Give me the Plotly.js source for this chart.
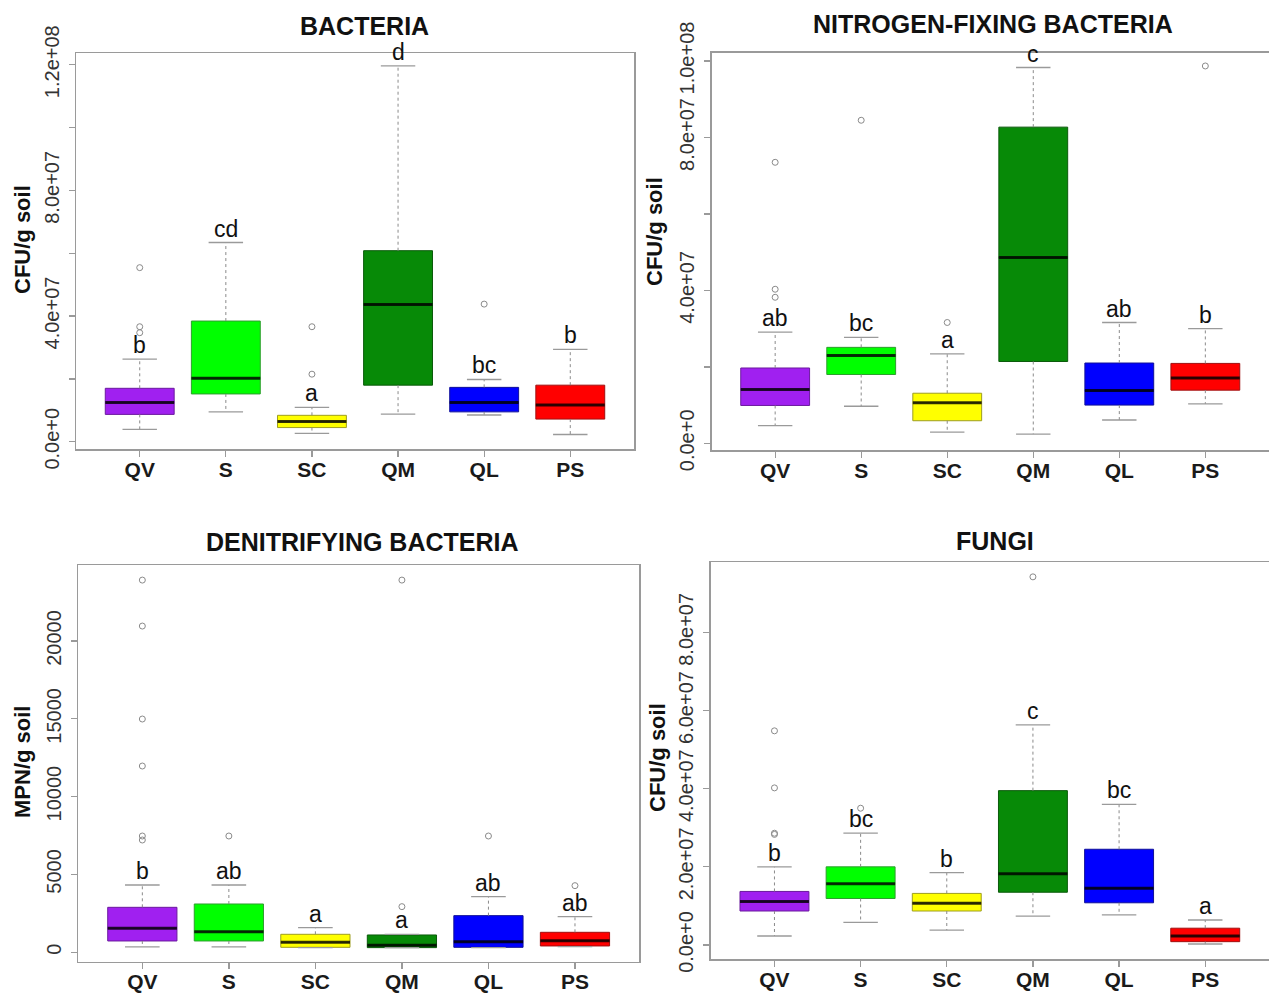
<!DOCTYPE html>
<html>
<head>
<meta charset="utf-8">
<script src="https://cdn.plot.ly/plotly-3.0.1.min.js"></script>
<style>
html,body{margin:0;padding:0;background:#fff;}
#chart{width:1269px;height:997px;}
</style>
</head>
<body>
<div id="chart"></div>
<script>
// ---------- data ----------
const categories = ['QV', 'S', 'SC', 'QM', 'QL', 'PS'];

// BACTERIA (CFU/g soil)
const bactLow  = [3.9e6, 9.5e6, 2.65e6, 8.8e6, 8.5e6, 2.3e6];
const bactQ1   = [8.7e6, 1.52e7, 4.5e6, 1.80e7, 9.5e6, 7.2e6];
const bactMed  = [1.25e7, 2.02e7, 6.4e6, 4.37e7, 1.25e7, 1.17e7];
const bactQ3   = [1.70e7, 3.84e7, 8.4e6, 6.08e7, 1.73e7, 1.80e7];
const bactHigh = [2.63e7, 6.34e7, 1.09e7, 1.196e8, 1.98e7, 2.94e7];
const bactOutGroup = ['QV', 'QV', 'QV', 'SC', 'SC', 'QL'];
const bactOutValue = [3.47e7, 3.66e7, 5.54e7, 2.15e7, 3.66e7, 4.38e7];
const bactLetters = ['b', 'cd', 'a', 'd', 'bc', 'b'];
const bactTickVals = [0, 2e7, 4e7, 6e7, 8e7, 1e8, 1.2e8];
const bactTickText = ['0.0e+0', '', '4.0e+07', '', '8.0e+07', '', '1.2e+08'];

// NITROGEN-FIXING BACTERIA (CFU/g soil)
const nfLow  = [4.6e6, 9.7e6, 2.9e6, 2.4e6, 6.1e6, 1.03e7];
const nfQ1   = [9.9e6, 1.80e7, 5.9e6, 2.14e7, 1.0e7, 1.39e7];
const nfMed  = [1.41e7, 2.30e7, 1.06e7, 4.86e7, 1.38e7, 1.71e7];
const nfQ3   = [1.97e7, 2.51e7, 1.31e7, 8.27e7, 2.10e7, 2.09e7];
const nfHigh = [2.91e7, 2.77e7, 2.34e7, 9.83e7, 3.16e7, 3.0e7];
const nfOutGroup = ['QV', 'QV', 'QV', 'S', 'SC', 'PS'];
const nfOutValue = [3.82e7, 4.03e7, 7.35e7, 8.45e7, 3.16e7, 9.87e7];
const nfLetters = ['ab', 'bc', 'a', 'c', 'ab', 'b'];
const nfTickVals = [0, 2e7, 4e7, 6e7, 8e7, 1e8];
const nfTickText = ['0.0e+0', '', '4.0e+07', '', '8.0e+07', '1.0e+08'];

// DENITRIFYING BACTERIA (MPN/g soil)
const denLow  = [343, 343, 300, 300, 300, 364];
const denQ1   = [728, 728, 320, 300, 320, 407];
const denMed  = [1541, 1327, 642, 450, 685, 749];
const denQ3   = [2890, 3104, 1156, 1113, 2355, 1285];
const denHigh = [4325, 4325, 1584, 1150, 3575, 2291];
const denOutGroup = ['QV', 'QV', 'QV', 'QV', 'QV', 'QV', 'S', 'QM', 'QM', 'QL', 'PS'];
const denOutValue = [23914, 20960, 14987, 11968, 7472, 7215, 7472, 2933, 23914, 7472, 4282];
const denLetters = ['b', 'ab', 'a', 'a', 'ab', 'ab'];
const denTickVals = [0, 5000, 10000, 15000, 20000];
const denTickText = ['0', '5000', '10000', '15000', '20000'];

// FUNGI (CFU/g soil)
const funLow  = [2.3e6, 5.8e6, 3.8e6, 7.4e6, 7.7e6, 2.6e5];
const funQ1   = [8.7e6, 1.19e7, 8.7e6, 1.35e7, 1.08e7, 8.5e5];
const funMed  = [1.11e7, 1.57e7, 1.07e7, 1.82e7, 1.45e7, 2.3e6];
const funQ3   = [1.37e7, 2.0e7, 1.32e7, 3.95e7, 2.45e7, 4.3e6];
const funHigh = [2.0e7, 2.86e7, 1.85e7, 5.63e7, 3.6e7, 6.4e6];
const funOutGroup = ['QV', 'QV', 'QV', 'QV', 'S', 'QM'];
const funOutValue = [2.83e7, 2.86e7, 4.02e7, 5.48e7, 3.5e7, 9.42e7];
const funLetters = ['b', 'bc', 'b', 'c', 'bc', 'a'];
const funTickVals = [0, 2e7, 4e7, 6e7, 8e7];
const funTickText = ['0.0e+0', '2.0e+07', '4.0e+07', '6.0e+07', '8.0e+07'];

// ---------- style ----------
const fillColors = ['#A020F0', '#00FF00', '#FFFF00', '#078A07', '#0000FF', '#FF0000'];
const edgeColors = ['#6B1A9E', '#2E9E2E', '#9E9E20', '#0B5A0B', '#10109A', '#A01010'];
const FONT = 'Liberation Sans, Arial, sans-serif';
const GREY = '#9a9a9a';

const panels = [
  {name: 'BACTERIA', ytitle: 'CFU/g soil', low: bactLow, q1: bactQ1, med: bactMed, q3: bactQ3, high: bactHigh,
   outG: bactOutGroup, outV: bactOutValue, letters: bactLetters, tv: bactTickVals, tt: bactTickText,
   xd: [76, 634], yd: [53, 449], yr: [-2.32e6, 1.2372e8], title: [364, 26], yt: [22, 240]},
  {name: 'NITROGEN-FIXING BACTERIA', ytitle: 'CFU/g soil', low: nfLow, q1: nfQ1, med: nfMed, q3: nfQ3, high: nfHigh,
   outG: nfOutGroup, outV: nfOutValue, letters: nfLetters, tv: nfTickVals, tt: nfTickText,
   xd: [711.5, 1269], yd: [52.7, 450], yr: [-1.75e6, 1.0217e8], title: [993, 24], yt: [655, 232]},
  {name: 'DENITRIFYING BACTERIA', ytitle: 'MPN/g soil', low: denLow, q1: denQ1, med: denMed, q3: denQ3, high: denHigh,
   outG: denOutGroup, outV: denOutValue, letters: denLetters, tv: denTickVals, tt: denTickText,
   xd: [78.3, 639], yd: [565, 961.7], yr: [-604, 24883], title: [362, 542], yt: [22, 762]},
  {name: 'FUNGI', ytitle: 'CFU/g soil', low: funLow, q1: funQ1, med: funMed, q3: funQ3, high: funHigh,
   outG: funOutGroup, outV: funOutValue, letters: funLetters, tv: funTickVals, tt: funTickText,
   xd: [710.7, 1269], yd: [562, 959.3], yr: [-3.66e6, 9.8e7], title: [995, 541], yt: [657, 758]}
];

const W = 1269, H = 997;
const traces = [];
const layout = {
  width: W, height: H, margin: {l: 0, r: 0, t: 0, b: 0},
  paper_bgcolor: '#ffffff', plot_bgcolor: '#ffffff',
  showlegend: false, boxmode: 'overlay',
  annotations: []
};

panels.forEach((p, k) => {
  const n = k + 1;
  const xa = 'x' + (n === 1 ? '' : n), ya = 'y' + (n === 1 ? '' : n);
  const xkey = 'xaxis' + (n === 1 ? '' : n), ykey = 'yaxis' + (n === 1 ? '' : n);
  const pos = categories.map((c, i) => i + 1);

  // boxes
  categories.forEach((c, i) => {
    traces.push({
      type: 'box', x: [pos[i]], xaxis: xa, yaxis: ya,
      q1: [p.q1[i]], median: [p.med[i]], q3: [p.q3[i]],
      lowerfence: [p.q1[i]], upperfence: [p.q3[i]],
      width: 0.8, whiskerwidth: 0, boxpoints: false,
      fillcolor: fillColors[i], line: {color: edgeColors[i], width: 1},
      hoverinfo: 'skip'
    });
  });

  // whiskers (dashed), staples, medians
  const wx = [], wy = [];
  const sx = [], sy = [];
  const mx = [], my = [];
  categories.forEach((c, i) => {
    wx.push(pos[i], pos[i], null, pos[i], pos[i], null);
    wy.push(p.q3[i], p.high[i], null, p.q1[i], p.low[i], null);
    sx.push(pos[i] - 0.2, pos[i] + 0.2, null, pos[i] - 0.2, pos[i] + 0.2, null);
    sy.push(p.high[i], p.high[i], null, p.low[i], p.low[i], null);
    mx.push(pos[i] - 0.4, pos[i] + 0.4, null);
    my.push(p.med[i], p.med[i], null);
  });
  traces.push({type: 'scatter', mode: 'lines', x: wx, y: wy, xaxis: xa, yaxis: ya,
    line: {color: '#8a8a8a', width: 1, dash: '3px,3px'}, hoverinfo: 'skip', connectgaps: false});
  traces.push({type: 'scatter', mode: 'lines', x: sx, y: sy, xaxis: xa, yaxis: ya,
    line: {color: '#9a9a9a', width: 1.3}, hoverinfo: 'skip', connectgaps: false});
  traces.push({type: 'scatter', mode: 'lines', x: mx, y: my, xaxis: xa, yaxis: ya,
    line: {color: 'rgba(0,0,0,0.8)', width: 3}, hoverinfo: 'skip', connectgaps: false});

  // outliers
  traces.push({type: 'scatter', mode: 'markers', xaxis: xa, yaxis: ya,
    x: p.outG.map(g => categories.indexOf(g) + 1), y: p.outV,
    marker: {symbol: 'circle-open', size: 6, color: '#8a8a8a', line: {width: 1}}, hoverinfo: 'skip'});

  layout[xkey] = {
    domain: [p.xd[0] / W, p.xd[1] / W], anchor: ya, range: [0.26, 6.74],
    tickvals: pos, ticktext: categories, showgrid: false, zeroline: false,
    showline: true, mirror: true, linecolor: GREY, linewidth: 1.5,
    ticks: 'outside', ticklen: 6, tickcolor: GREY, tickwidth: 1.3,
    ticklabelstandoff: -5,
    tickfont: {family: FONT, size: 21, color: '#1a1a1a', weight: 'bold'}
  };
  layout[ykey] = {
    domain: [1 - p.yd[1] / H, 1 - p.yd[0] / H], anchor: xa, range: p.yr,
    tickvals: p.tv, ticktext: p.tt, tickangle: -90, showgrid: false, zeroline: false,
    showline: true, mirror: true, linecolor: GREY, linewidth: 1.5,
    ticks: 'outside', ticklen: 6, tickcolor: GREY, tickwidth: 1.3,
    ticklabelstandoff: 2,
    tickfont: {family: FONT, size: 20, color: '#333'}
  };

  // panel title
  layout.annotations.push({xref: 'paper', yref: 'paper', x: p.title[0] / W, y: 1 - p.title[1] / H,
    xanchor: 'center', yanchor: 'middle', showarrow: false, text: '<b>' + p.name + '</b>',
    font: {family: FONT, size: 25, color: '#111'}});
  // y-axis title
  layout.annotations.push({xref: 'paper', yref: 'paper', x: p.yt[0] / W, y: 1 - p.yt[1] / H,
    xanchor: 'center', yanchor: 'middle', showarrow: false, textangle: -90, text: '<b>' + p.ytitle + '</b>',
    font: {family: FONT, size: 22, color: '#111'}});
  // significance letters
  categories.forEach((c, i) => {
    layout.annotations.push({xref: xa, yref: ya, x: pos[i], y: p.high[i], xanchor: 'center', yanchor: 'bottom',
      yshift: -1, showarrow: false, text: p.letters[i], font: {family: FONT, size: 23, color: '#111'}});
  });
});

Plotly.newPlot('chart', traces, layout, {staticPlot: true, displayModeBar: false});
</script>
</body>
</html>
